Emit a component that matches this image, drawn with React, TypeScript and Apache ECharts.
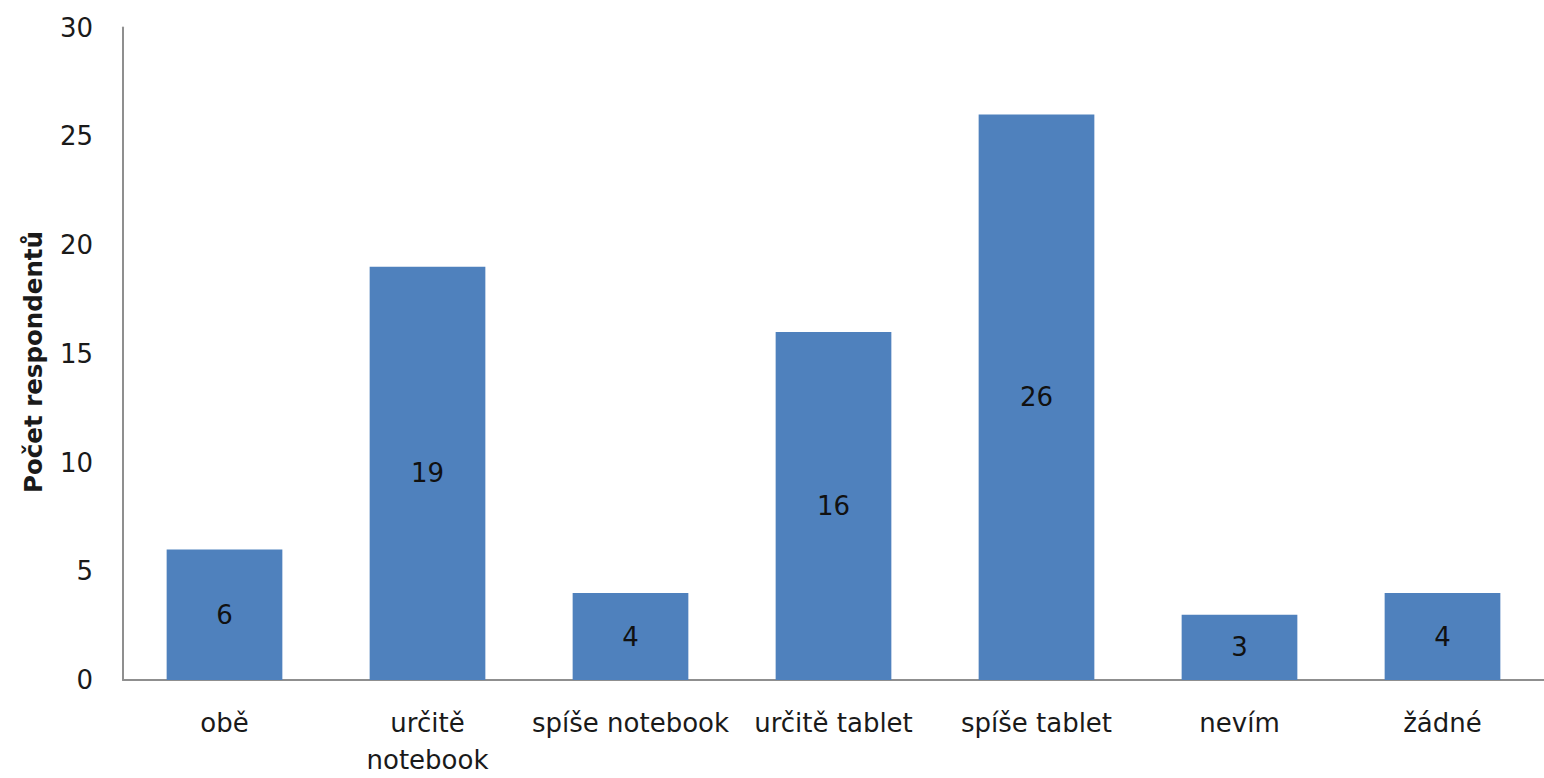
import React, { useEffect, useRef } from "react";
import * as echarts from "echarts";

// Odpovědi respondentů: preferované zařízení
const categories = [
  "obě",
  "určitě\nnotebook",
  "spíše notebook",
  "určitě tablet",
  "spíše tablet",
  "nevím",
  "žádné",
];
const counts = [6, 19, 4, 16, 26, 3, 4];
const yAxisTitle = "Počet respondentů";

const FONT = "'DejaVu Sans', sans-serif";
const TEXT = "#1a1a1a";
const AXIS = "#8f8f8f";

export default function App() {
  const ref = useRef<HTMLDivElement>(null);

  useEffect(() => {
    document.body.style.margin = "0";
    if (!ref.current) return;
    const chart = echarts.init(ref.current, null, { renderer: "svg" });
    chart.setOption({
      animation: false,
      textStyle: { fontFamily: FONT },
      // plot area runs slightly past the right edge of the canvas
      grid: { left: 123, width: 1427, top: 27.5, bottom: 94 },
      xAxis: {
        type: "category",
        data: categories,
        axisLine: { lineStyle: { color: AXIS, width: 2 } },
        axisTick: { show: false },
        axisLabel: {
          color: TEXT,
          fontSize: 26,
          fontFamily: FONT,
          margin: 24,
          lineHeight: 37,
          interval: 0,
        },
      },
      yAxis: {
        type: "value",
        min: 0,
        max: 30,
        interval: 5,
        axisLine: { show: true, lineStyle: { color: AXIS, width: 2 } },
        axisTick: { show: false },
        splitLine: { show: false },
        axisLabel: {
          color: TEXT,
          fontSize: 26,
          fontFamily: FONT,
          margin: 30,
        },
      },
      graphic: [
        {
          type: "text",
          x: 33,
          y: 362,
          rotation: Math.PI / 2,
          style: {
            text: yAxisTitle,
            fontSize: 24.5,
            fontWeight: "bold",
            fontFamily: FONT,
            fill: TEXT,
            align: "center",
            verticalAlign: "middle",
          },
        },
      ],
      series: [
        {
          type: "bar",
          data: counts,
          barCategoryGap: "43%",
          itemStyle: { color: "#4f81bd" },
          label: {
            show: true,
            position: "inside",
            color: "#111",
            fontSize: 26,
            fontFamily: FONT,
          },
        },
      ],
    });
    return () => chart.dispose();
  }, []);

  return <div ref={ref} style={{ width: 1544, height: 778 }} />;
}
